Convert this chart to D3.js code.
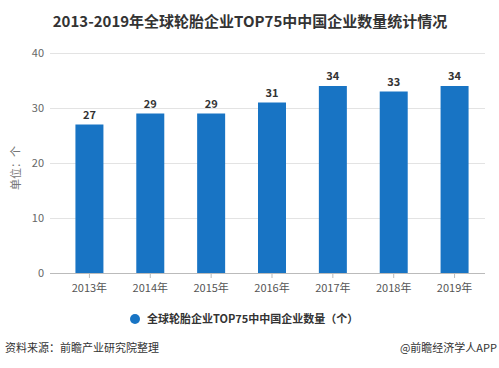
<!DOCTYPE html>
<html>
<head>
<meta charset="utf-8">
<script src="https://cdn.jsdelivr.net/npm/d3@7"></script>
<style>
  body { margin: 0; background: #fff; }
  text { font-family: "Microsoft YaHei", "Noto Sans CJK SC", sans-serif; }
</style>
</head>
<body>
<div id="chart"></div>
<script>
var years = ["2013年", "2014年", "2015年", "2016年", "2017年", "2018年", "2019年"];
var counts = [27, 29, 29, 31, 34, 33, 34];
var yTicks = [0, 10, 20, 30, 40];

var width = 499, height = 368;

var svg = d3.select("#chart")
  .append("svg")
  .attr("width", width)
  .attr("height", height);

// title
svg.append("text")
  .attr("x", 250)
  .attr("y", 27)
  .attr("text-anchor", "middle")
  .attr("font-size", 15)
  .attr("font-weight", "bold")
  .attr("fill", "#333")
  .text("2013-2019年全球轮胎企业TOP75中中国企业数量统计情况");

var x = d3.scaleBand()
  .domain(years)
  .range([59, 485])
  .paddingInner(0.54)
  .paddingOuter(0.27);

var y = d3.scaleLinear()
  .domain([0, 40])
  .range([273, 53]);

// grid lines
svg.selectAll(".grid")
  .data(yTicks)
  .enter()
  .append("line")
  .attr("x1", 50)
  .attr("x2", 485)
  .attr("y1", function(d) { return y(d) + 0.5; })
  .attr("y2", function(d) { return y(d) + 0.5; })
  .attr("stroke", function(d) { return d === 0 ? "#bbb" : "#e3e3e3"; });

// y labels
svg.selectAll(".ylab")
  .data(yTicks)
  .enter()
  .append("text")
  .attr("x", 44)
  .attr("y", function(d) { return y(d) + 4; })
  .attr("text-anchor", "end")
  .attr("font-size", 11)
  .attr("fill", "#666")
  .text(function(d) { return d; });

svg.append("text")
  .attr("transform", "translate(20,168) rotate(-90)")
  .attr("text-anchor", "middle")
  .attr("font-size", 11)
  .attr("fill", "#777")
  .text("单位：个");

// bars
svg.selectAll(".bar")
  .data(counts)
  .enter()
  .append("rect")
  .attr("x", function(d, i) { return x(years[i]); })
  .attr("y", function(d) { return y(d); })
  .attr("width", x.bandwidth())
  .attr("height", function(d) { return y(0) - y(d); })
  .attr("fill", "#1874c4");

svg.selectAll(".val")
  .data(counts)
  .enter()
  .append("text")
  .attr("x", function(d, i) { return x(years[i]) + x.bandwidth() / 2; })
  .attr("y", function(d) { return y(d) - 6; })
  .attr("text-anchor", "middle")
  .attr("font-size", 11)
  .attr("font-weight", "bold")
  .attr("fill", "#333")
  .text(function(d) { return d; });

// x ticks + labels
svg.selectAll(".xtick")
  .data(years)
  .enter()
  .append("line")
  .attr("x1", function(d) { return x(d) + x.bandwidth() / 2; })
  .attr("x2", function(d) { return x(d) + x.bandwidth() / 2; })
  .attr("y1", 273)
  .attr("y2", 278)
  .attr("stroke", "#bbb");

svg.selectAll(".xlab")
  .data(years)
  .enter()
  .append("text")
  .attr("x", function(d) { return x(d) + x.bandwidth() / 2; })
  .attr("y", 292)
  .attr("text-anchor", "middle")
  .attr("font-size", 11)
  .attr("fill", "#555")
  .text(function(d) { return d; });

// legend
svg.append("circle")
  .attr("cx", 135)
  .attr("cy", 319)
  .attr("r", 5)
  .attr("fill", "#1874c4");

svg.append("text")
  .attr("x", 147)
  .attr("y", 323)
  .attr("font-size", 11)
  .attr("font-weight", "bold")
  .attr("fill", "#333")
  .text("全球轮胎企业TOP75中中国企业数量（个）");

// footer
svg.append("text")
  .attr("x", 5)
  .attr("y", 352)
  .attr("font-size", 11)
  .attr("fill", "#333")
  .text("资料来源：前瞻产业研究院整理");

svg.append("text")
  .attr("x", 497)
  .attr("y", 352)
  .attr("text-anchor", "end")
  .attr("font-size", 11)
  .attr("fill", "#333")
  .text("@前瞻经济学人APP");
</script>
</body>
</html>
